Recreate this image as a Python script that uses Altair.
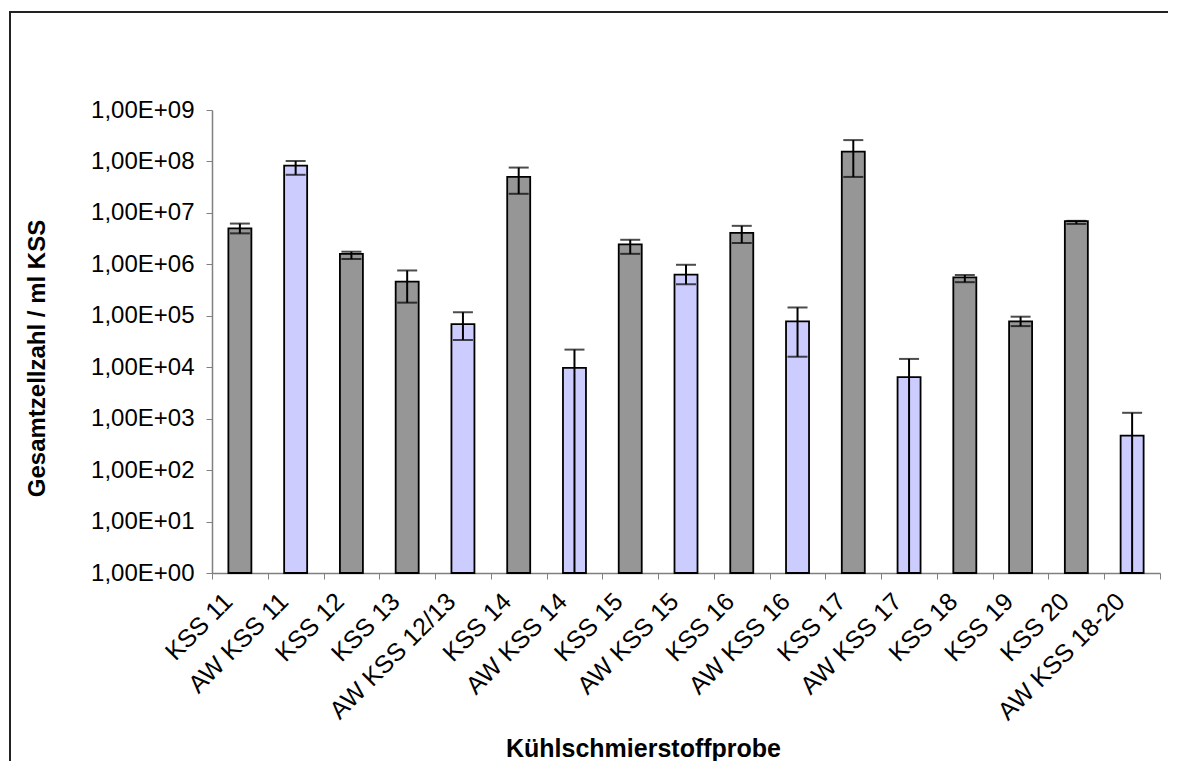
import altair as alt
import pandas as pd

categories = ["KSS 11", "AW KSS 11", "KSS 12", "KSS 13", "AW KSS 12/13", "KSS 14",
              "AW KSS 14", "KSS 15", "AW KSS 15", "KSS 16", "AW KSS 16", "KSS 17",
              "AW KSS 17", "KSS 18", "KSS 19", "KSS 20", "AW KSS 18-20"]
groups = ["KSS", "AW", "KSS", "KSS", "AW", "KSS", "AW", "KSS", "AW", "KSS", "AW",
          "KSS", "AW", "KSS", "KSS", "KSS", "AW"]
values = [5.0e6, 8.3e7, 1.6e6, 4.6e5, 6.9e4, 5.0e7, 9.7e3, 2.45e6, 6.3e5, 4.1e6,
          7.8e4, 1.55e8, 6.4e3, 5.6e5, 7.8e4, 6.9e6, 4.7e2]
err_hi = [6.2e6, 1.02e8, 1.76e6, 7.6e5, 1.17e5, 7.6e7, 2.2e4, 3.0e6, 9.8e5, 5.6e6,
          1.45e5, 2.6e8, 1.45e4, 6.2e5, 9.6e4, 7.0e6, 1.3e3]
# None: lower error reaches below the axis minimum (no cap visible)
err_lo = [4.0e6, 5.5e7, 1.27e6, 1.8e5, 3.4e4, 2.35e7, None, 1.6e6, 4.1e5, 2.6e6,
          1.6e4, 5.0e7, None, 4.5e5, 6.3e4, 6.1e6, None]
y_ticks = [1, 1e1, 1e2, 1e3, 1e4, 1e5, 1e6, 1e7, 1e8, 1e9]

df = pd.DataFrame({
    "cat": categories,
    "grp": groups,
    "val": values,
    "hi": err_hi,
    "lo": [v if v is not None else 1 for v in err_lo],
    "locap": err_lo,
    "base": [1] * len(categories),
})

FONT = "Liberation Sans"
W, H = 948, 463
PAD = {"left": 204, "top": 102, "right": 8, "bottom": 188}

x_enc = alt.X("cat:N", sort=categories,
              axis=alt.Axis(title="Kühlschmierstoffprobe", labelAngle=-45,
                            labelAlign="right", labelBaseline="middle",
                            labelPadding=18, labelOffset=-12,
                            labelFontSize=25, labelFont=FONT, labelColor="black",
                            tickBand="extent", tickSize=6, tickColor="#808080",
                            domainColor="#808080", domainWidth=1.5,
                            titleFont=FONT, titleFontSize=25, titleFontWeight="bold",
                            titleColor="black", titleX=431, titleY=175,
                            titleBaseline="middle", titleAlign="center"),
              scale=alt.Scale(paddingInner=0, paddingOuter=0))

y_scale = alt.Scale(type="log", domain=[1, 1e9], nice=False)

bars = alt.Chart(df).mark_bar(size=23, stroke="black", strokeWidth=1.8).encode(
    x=x_enc,
    y=alt.Y("val:Q", scale=y_scale,
            axis=alt.Axis(title="Gesamtzellzahl / ml KSS", values=y_ticks,
                          labelExpr="'1,00E+0' + round(log(datum.value) / LN10)",
                          labelFontSize=24, labelFont=FONT, labelColor="black",
                          labelPadding=12, tickSize=6, tickColor="#808080",
                          domainColor="#808080", domainWidth=1.5, grid=False,
                          titleFont=FONT, titleFontSize=24, titleFontWeight="bold",
                          titleColor="black", titleX=-175, titleY=248,
                          titleBaseline="middle", titleAlign="center", titleAngle=-90)),
    y2="base:Q",
    color=alt.Color("grp:N", scale=alt.Scale(domain=["KSS", "AW"],
                                             range=["#969696", "#CCCCFF"]),
                    legend=None),
)

err_line = alt.Chart(df).mark_rule(color="black", strokeWidth=2).encode(
    x=alt.X("cat:N", sort=categories),
    y=alt.Y("lo:Q", scale=y_scale),
    y2="hi:Q",
)

cap_hi = alt.Chart(df).mark_tick(color="black", thickness=2, size=20).encode(
    x=alt.X("cat:N", sort=categories),
    y=alt.Y("hi:Q", scale=y_scale),
)

cap_lo = alt.Chart(df).transform_filter("isValid(datum.locap)").mark_tick(
    color="black", thickness=2, size=20).encode(
    x=alt.X("cat:N", sort=categories),
    y=alt.Y("locap:Q", scale=y_scale),
)

one = pd.DataFrame({"a": [0]})
frame_top = alt.Chart(one).mark_rect(color="#222222", clip=False).encode(
    x=alt.value(-202), x2=alt.value(W + 40), y=alt.value(-99), y2=alt.value(-97))
frame_left = alt.Chart(one).mark_rect(color="#222222", clip=False).encode(
    x=alt.value(-203), x2=alt.value(-201), y=alt.value(-99), y2=alt.value(H + 300))

chart = alt.layer(bars, err_line, cap_hi, cap_lo, frame_top, frame_left).properties(
    width=W, height=H,
    autosize=alt.AutoSizeParams(type="none"),
    padding=PAD,
).configure_view(stroke=None)

chart.save("out.html", embed_options={"renderer": "svg", "actions": False})
